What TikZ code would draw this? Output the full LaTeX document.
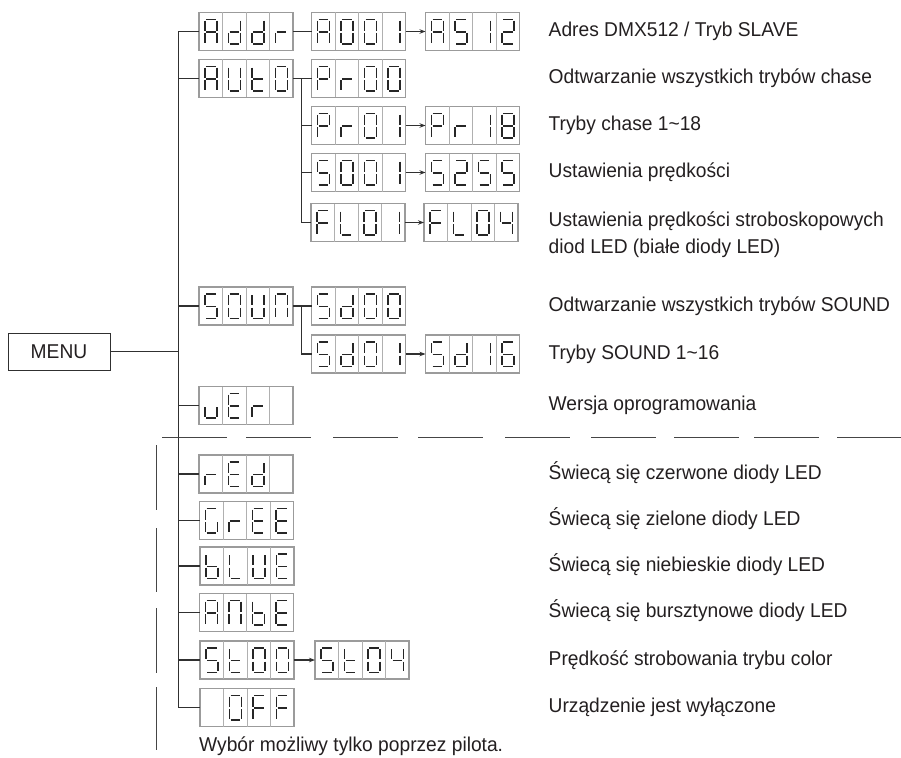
\documentclass[tikz,border=0pt]{standalone}
\usepackage{fontspec}
\setmainfont{Liberation Sans}[FakeStretch=0.96]
\usetikzlibrary{arrows.meta}

\definecolor{boxgray}{HTML}{9B9B9B}
\definecolor{sepgray}{HTML}{B0B0B0}
\definecolor{seggray}{HTML}{262626}
\definecolor{linegray}{HTML}{303030}
\definecolor{txt}{HTML}{231F20}

% seven segment pieces (cell coordinates, y downwards)
\newcommand\sega{\draw[segl] (7.2,7) -- (16.8,7);}
\newcommand\segb{\draw[segl] (18,8.2) -- (18,18.1);}
\newcommand\segc{\draw[segl] (18,20.5) -- (18,30.3);}
\newcommand\segd{\draw[segl] (7.2,31.5) -- (16.8,31.5);}
\newcommand\sege{\draw[segl] (6,20.5) -- (6,30.3);}
\newcommand\segf{\draw[segl] (6,8.2) -- (6,18.1);}
\newcommand\segg{\draw[segl] (7.2,19.3) -- (16.8,19.3);}
\newcommand\segz{}

% characters
\def\chA{a,b,c,e,f,g}
\def\chd{b,c,d,e,g}
\def\chr{e,g}
\def\chO{a,b,c,d,e,f}
\def\chI{b,c}
\def\chS{a,c,d,f,g}
\def\chTwo{a,b,d,e,g}
\def\chU{b,c,d,e,f}
\def\cht{d,e,f,g}
\def\chP{a,b,e,f,g}
\def\chEight{a,b,c,d,e,f,g}
\def\chF{a,e,f,g}
\def\chL{d,e,f}
\def\chFour{b,c,f,g}
\def\chn{a,b,c,e,f}
\def\chSix{a,c,d,e,f,g}
\def\chu{c,d,e}
\def\chE{a,d,e,f,g}
\def\chG{a,c,d,e,f}
\def\chb{c,d,e,f,g}
\def\chN{z}

\newcommand\dispcell[2]{%
  \begin{scope}[shift={(#1*23.5,0)}]
    \foreach \s in #2 {\csname seg\s\endcsname}
  \end{scope}}

\newcommand\disp[7]{%
  \node[dispbox] (#1) at (#2,#3) {};
  \begin{scope}[shift={({#2-47},{#3-19})}]
    \foreach \i in {1,2,3} {\draw[sepl] (\i*23.5,0) -- (\i*23.5,38);}
    \dispcell{0}{#4}\dispcell{1}{#5}\dispcell{2}{#6}\dispcell{3}{#7}
  \end{scope}}

\begin{document}
\begin{tikzpicture}[x=1pt,y=-1pt,
  dispbox/.style={draw=boxgray,line width=1.1pt,minimum width=94pt,minimum height=38pt,inner sep=0pt,outer sep=0pt},
  sepl/.style={draw=sepgray,line width=0.9pt},
  segl/.style={draw=seggray,line width=1.45pt},
  conn/.style={draw=linegray,line width=1.2pt},
  arr/.style={conn,-{Stealth[length=6pt,width=4.5pt]}},
  dashl/.style={draw=linegray!90,line width=1.2pt},
  lbl/.style={anchor=west,inner sep=0pt,text=txt,font=\fontsize{20}{24}\selectfont,text height=14pt,text depth=4pt},
  menubox/.style={draw=linegray,line width=1pt,minimum width=102pt,minimum height=37pt,inner sep=0pt,outer sep=0pt,text=txt,font=\fontsize{20}{24}\selectfont}
]
\useasboundingbox (0,0) rectangle (901,757);

% displays
\disp{addr}{246}{31.5}{\chA}{\chd}{\chd}{\chr}
\disp{a001}{358.5}{31.5}{\chA}{\chO}{\chO}{\chI}
\disp{as12}{472.5}{31.5}{\chA}{\chS}{\chI}{\chTwo}
\disp{auto}{246}{78.5}{\chA}{\chU}{\cht}{\chO}
\disp{pr00}{358.5}{78.5}{\chP}{\chr}{\chO}{\chO}
\disp{pr01}{358.5}{125.5}{\chP}{\chr}{\chO}{\chI}
\disp{pr18}{472.5}{125.5}{\chP}{\chr}{\chI}{\chEight}
\disp{s001}{358.5}{172.5}{\chS}{\chO}{\chO}{\chI}
\disp{s255}{472.5}{172.5}{\chS}{\chTwo}{\chS}{\chS}
\disp{fl01}{358}{222.5}{\chF}{\chL}{\chO}{\chI}
\disp{fl04}{471}{222.5}{\chF}{\chL}{\chO}{\chFour}
\disp{soun}{246}{306}{\chS}{\chO}{\chU}{\chn}
\disp{sd00}{358.5}{306}{\chS}{\chd}{\chO}{\chO}
\disp{sd01}{358.5}{354}{\chS}{\chd}{\chO}{\chI}
\disp{sd16}{472.5}{354}{\chS}{\chd}{\chI}{\chSix}
\disp{ver}{246}{405.5}{\chu}{\chE}{\chr}{\chN}
\disp{red}{246}{474}{\chr}{\chE}{\chd}{\chN}
\disp{gree}{246.5}{520.5}{\chG}{\chr}{\chE}{\chE}
\disp{blue}{247}{566}{\chb}{\chL}{\chU}{\chE}
\disp{ambe}{246.5}{612.5}{\chA}{\chn}{\chb}{\chE}
\disp{st00}{247}{660}{\chS}{\cht}{\chO}{\chO}
\disp{st04}{362}{660}{\chS}{\cht}{\chO}{\chFour}
\disp{off}{247}{707.5}{\chN}{\chO}{\chF}{\chF}

% MENU
\node[menubox] (menu) at (59,351.7) {MENU};

% main tree
\coordinate (vx) at (178.5,0);
\coordinate (bx) at (301.7,0);
\draw[conn] (addr.west) -- (addr.west -| vx) |- (off.west);
\foreach \n in {auto,soun,ver,red,gree,blue,ambe,st00}
  {\draw[conn] (\n.west -| vx) -- (\n.west);}
\draw[conn] (menu.east) -- (menu.east -| vx);

\draw[conn] (addr.east) -- (a001.west);
\draw[conn] (auto.east) -- (pr00.west);
\draw[conn] (auto.east -| bx) |- (fl01.west);
\draw[conn] (pr01.west -| bx) -- (pr01.west);
\draw[conn] (s001.west -| bx) -- (s001.west);
\draw[conn] (soun.east) -- (sd00.west);
\draw[conn] (soun.east -| bx) |- (sd01.west);

\draw[arr] (a001.east) -- (as12.west);
\draw[arr] (pr01.east) -- (pr18.west);
\draw[arr] (s001.east) -- (s255.west);
\draw[arr] (fl01.east) -- (fl04.west);
\draw[arr] (sd01.east) -- (sd16.west);
\draw[arr] (st00.east) -- (st04.west);

% dashed separators
\foreach \s in {162,246,333,418,505,591,674,754,837}
  {\draw[dashl] (\s,437.7) -- ++(65,0);}
\foreach \s/\e in {445/510,528/592,608/673,687/750}
  {\draw[dashl] (156.7,\s) -- (156.7,\e);}

% labels
\node[lbl] (l1) at (548.5,31.5) {Adres DMX512 / Tryb SLAVE};
\node[lbl] (l2) at (548.5,78.5) {Odtwarzanie wszystkich trybów chase};
\node[lbl] (l3) at (548.5,125.5) {Tryby chase 1\textasciitilde18};
\node[lbl] (l4) at (548.5,172.5) {Ustawienia prędkości};
\node[lbl] (l5a) at (548.5,221) {Ustawienia prędkości stroboskopowych};
\node[lbl] (l5b) at (548.5,248) {diod LED (białe diody LED)};
\node[lbl] (l6) at (548.5,306) {Odtwarzanie wszystkich trybów SOUND};
\node[lbl] (l7) at (548.5,354) {Tryby SOUND 1\textasciitilde16};
\node[lbl] (l8) at (548.5,405.5) {Wersja oprogramowania};
\node[lbl] (l9) at (548.5,474) {Świecą się czerwone diody LED};
\node[lbl] (l10) at (548.5,520.5) {Świecą się zielone diody LED};
\node[lbl] (l11) at (548.5,566) {Świecą się niebieskie diody LED};
\node[lbl] (l12) at (548.5,612.5) {Świecą się bursztynowe diody LED};
\node[lbl] (l13) at (548.5,660) {Prędkość strobowania trybu color};
\node[lbl] (l14) at (548.5,707.5) {Urządzenie jest wyłączone};
\node[lbl] (note) at (199,746) {Wybór możliwy tylko poprzez pilota.};
\end{tikzpicture}
\end{document}
